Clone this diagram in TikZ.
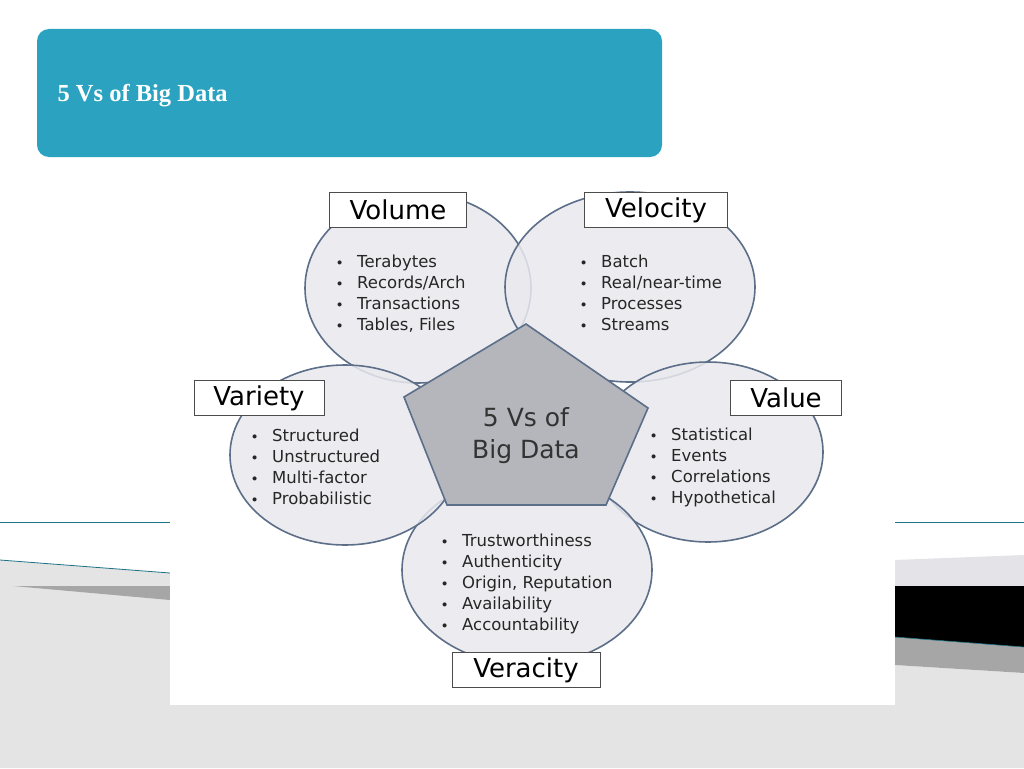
\documentclass[tikz,border=0pt]{standalone}
\usepackage{fontspec}
\setmainfont{Liberation Serif}
\newfontfamily\diag{DejaVu Sans}
\definecolor{teal1}{HTML}{2BA3C0}
\definecolor{circfill}{HTML}{E9E9EE}
\definecolor{circline}{HTML}{5C6E88}
\definecolor{pentfill}{HTML}{B4B6BC}
\definecolor{hatch}{HTML}{E4E4E4}
\newcommand{\bul}{\raisebox{0.25ex}{\scalebox{0.6}{$\bullet$}}\hspace{0.9em}}
\tikzset{
 circ/.style={draw=circline, line width=1.6pt, fill=circfill, fill opacity=0.85, draw opacity=1},
 lbl/.style={draw=black!70, line width=0.8pt, fill=white, minimum height=35, inner sep=3pt, font=\diag\fontsize{26}{26}\selectfont},
 items/.style={align=left, font=\diag\fontsize{16.5}{21}\selectfont, text=black!85, inner sep=0pt}
}
\begin{document}
\begin{tikzpicture}[x=1pt,y=-1pt]
\useasboundingbox (0,0) rectangle (1024,768);
\fill[white] (0,0) rectangle (1024,768);
% background decorations
\fill[hatch] (0,560) -- (170,573) -- (170,705) -- (895,705) -- (895,665) -- (1024,673) -- (1024,768) -- (0,768) -- cycle;
\draw[teal1!70!black, line width=0.8pt] (0,560) -- (170,573);
\fill[gray!70] (13,586) -- (170,586) -- (170,600) -- cycle;
\draw[teal1!70!black, line width=0.5pt] (0,522) -- (170,522);
\draw[teal1!70!black, line width=0.5pt] (895,522) -- (1024,522);
\fill[blue!8!gray!20] (895,560) -- (1024,555) -- (1024,586) -- (895,586) -- cycle;
\fill[gray!70] (895,637) -- (1024,647) -- (1024,673) -- (895,665) -- cycle;
\fill[black] (895,586) -- (1024,586) -- (1024,647) -- (895,637) -- cycle;
\draw[teal1!70!black, line width=0.6pt] (895,637) -- (1024,647);
% title banner
\node[fill=teal1, rounded corners=12pt, minimum width=625, minimum height=128, inner sep=0pt] (banner) at (349.5,93) {};
\node[anchor=west, text=white, font=\bfseries\fontsize{24.5}{24.5}\selectfont] (title) at (54,96) {5 Vs of Big Data};
% image area
\fill[white] (170,178) rectangle (895,705);
% circles
\draw[circ] (418,288) ellipse (113 and 95);
\draw[circ] (630,287) ellipse (125 and 95);
\draw[circ] (708,452) ellipse (115 and 90);
\draw[circ] (527,570) ellipse (125 and 95);
\draw[circ] (345,455) ellipse (115 and 90);
% pentagon
\draw[fill=pentfill, draw=circline, line width=1.6pt] (526,324) -- (648,408) -- (606,505) -- (447,505) -- (404,397) -- cycle;
\node[font=\diag\fontsize{25}{32}\selectfont, align=center, text=black!80] (centre) at (526,436) {5 Vs of\\Big Data};
% labels
\node[lbl, minimum width=137] (vol) at (398,210) {Volume};
\node[lbl, minimum width=143] (vel) at (656,210) {Velocity};
\node[lbl, minimum width=130] (var) at (259,398) {Variety};
\node[lbl, minimum width=111] (val) at (786,398) {Value};
\node[lbl, minimum width=148] (ver) at (526,670) {Veracity};
% items
\node[items, anchor=north west] (ivol) at (337,255) {\bul Terabytes\\\bul Records/Arch\\\bul Transactions\\\bul Tables, Files};
\node[items, anchor=north west] (ivel) at (581,255) {\bul Batch\\\bul Real/near-time\\\bul Processes\\\bul Streams};
\node[items, anchor=north west] (ivar) at (252,429) {\bul Structured\\\bul Unstructured\\\bul Multi-factor\\\bul Probabilistic};
\node[items, anchor=north west] (ival) at (651,428) {\bul Statistical\\\bul Events\\\bul Correlations\\\bul Hypothetical};
\node[items, anchor=north west] (iver) at (442,534) {\bul Trustworthiness\\\bul Authenticity\\\bul Origin, Reputation\\\bul Availability\\\bul Accountability};
\end{tikzpicture}
\end{document}
